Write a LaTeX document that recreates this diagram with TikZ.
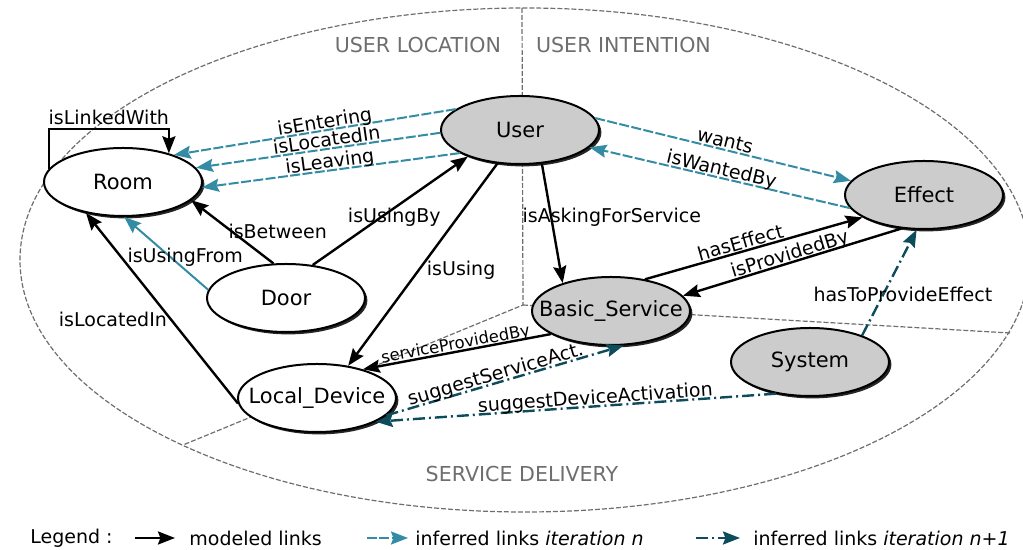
\documentclass[tikz,border=0pt]{standalone}
\usepackage{fontspec}
\setmainfont{DejaVu Sans}
\usetikzlibrary{arrows.meta, positioning, shapes.geometric, shadows}

\definecolor{inferredcol}{RGB}{52,140,164}
\definecolor{nextcol}{RGB}{12,76,92}
\definecolor{zonegray}{RGB}{110,110,110}
\definecolor{conceptgray}{RGB}{204,204,204}

\begin{document}
\begin{tikzpicture}[x=1pt, y=1pt, >={Stealth[length=8.5pt, width=6.5pt, inset=1.2pt]},
    node distance=20pt, on grid,
    concept/.style={ellipse, draw, line width=1pt, fill=white, minimum width=79pt, minimum height=34pt,
        inner xsep=-8pt, inner ysep=0pt, font=\fontsize{10.5}{12}\selectfont,
        drop shadow={shadow xshift=1.2pt, shadow yshift=-1.2pt, fill=black!85, opacity=1}},
    active/.style={concept, fill=conceptgray},
    modeled/.style={->, line width=1.2pt},
    inferred/.style={->, line width=1pt, draw=inferredcol, dash pattern=on 5pt off 1.2pt},
    inferrednext/.style={->, line width=1.2pt, draw=nextcol, dash pattern=on 6pt off 2pt on 1pt off 2pt},
    lbl/.style={font=\fontsize{9.5}{11}\selectfont, inner sep=1.5pt},
    slbl/.style={lbl, sloped, anchor=base, yshift=1.2pt},
    zone/.style={draw=zonegray, line width=0.6pt, dash pattern=on 2.5pt off 1pt},
    zonelbl/.style={text=zonegray, font=\fontsize{10.3}{12}\selectfont}]
    \useasboundingbox (0,0) rectangle (511.5,275);

    % Zones
    \draw[zone] (262.5,145) ellipse [x radius=252.5, y radius=126];
    \coordinate (zoneTop) at (261,271);
    \coordinate (zoneMid) at (261.5,122.5);
    \coordinate (zoneLeft) at (91.5,52.5);
    \coordinate (zoneRight) at (505,108.5);
    \draw[zone] (zoneTop) -- (zoneMid) -- (zoneLeft);
    \draw[zone] (zoneMid) -- (zoneRight);
    \node[zonelbl, anchor=east] (locLbl) at (254,252.5) {USER LOCATION};
    \node[zonelbl, anchor=west] (intLbl) at (264.5,252.5) {USER INTENTION};
    \node[zonelbl] (srvLbl) at (261,38) {SERVICE DELIVERY};

    % Nodes
    \node[active] (User) at (260,210) {User};
    \node[concept] (Room) [below left=26pt and 198.5pt of User] {Room};
    \node[active] (Effect) [below right=32.5pt and 202pt of User] {Effect};
    \node[concept] (Door) [below right=58pt and 81.5pt of Room] {Door};
    \node[active] (Basic_Service) [below right=90.5pt and 45.5pt of User] {Basic\_Service};
    \node[active] (System) [below right=25.5pt and 99.5pt of Basic_Service] {System};
    \node[concept] (Local_Device) [below right=50pt and 15.5pt of Door] {Local\_Device};

    % Modeled links
    \draw[modeled] (Room.170) -- ++(0,20) -| node[lbl, pos=0.25, above] {isLinkedWith} (Room.32);
    \draw[modeled] (Door.110) -- node[lbl, anchor=west, xshift=-4pt] {isBetween} (Room.-15);
    \draw[modeled] (Door.51) -- node[lbl, xshift=2pt, yshift=-3pt] {isUsingBy} (User.207);
    \draw[modeled] (User.236) -- node[lbl, anchor=west, yshift=-3pt] {isUsing} (Local_Device.46);
    \draw[modeled] (User.-57) -- node[lbl, xshift=29.75pt, yshift=3pt] {isAskingForService} (Basic_Service.150);
    \draw[modeled] (Basic_Service.43) -- node[slbl, pos=0.45] {hasEffect} (Effect.200);
    \draw[modeled] (Effect.236) -- node[slbl] {isProvidedBy} (Basic_Service.12);
    \draw[modeled] (Basic_Service.201) -- node[slbl, font=\fontsize{8.2}{10}\selectfont] {serviceProvidedBy} (Local_Device.32);
    \draw[modeled] (Local_Device.184) -- node[lbl, pos=0.44, anchor=east] {isLocatedIn} (Room.220);

    % Inferred links, iteration n
    \draw[inferred] (User.162) -- node[slbl, pos=0.46] {isEntering} (Room.28);
    \draw[inferred] (User.182) -- node[slbl, pos=0.46] {isLocatedIn} (Room.11);
    \draw[inferred] (User.201) -- node[slbl] {isLeaving} (Room.-4);
    \draw[inferred, solid] (Door.174) -- node[lbl, xshift=9.5pt, yshift=-2pt] {isUsingFrom} (Room.-88);
    \draw[inferred] (User.9) -- node[slbl] {wants} (Effect.169);
    \draw[inferred] (Effect.190) -- node[slbl] {isWantedBy} (User.-14);

    % Inferred links, iteration n+1
    \draw[inferrednext] (System.27) -- node[lbl, xshift=6.75pt, yshift=-5.75pt] {hasToProvideEffect} (Effect.258);
    \draw[inferrednext] (Local_Device.-14) -- node[slbl, pos=0.47] {suggestServiceAct.} (Basic_Service.-70);
    \draw[inferrednext] (System.223) -- node[slbl, pos=0.45] {suggestDeviceActivation} (Local_Device.-22);

    % Legend
    \node[lbl, anchor=west] (legend) at (13.5,6) {Legend :};
    \coordinate (lgModA) at (67.5,6);
    \coordinate (lgModB) at (87.5,6);
    \coordinate (lgInfA) at (183.5,6);
    \coordinate (lgInfB) at (204,6);
    \coordinate (lgNextA) at (348,6);
    \coordinate (lgNextB) at (370,6);
    \draw[modeled] (lgModA) -- (lgModB);
    \draw[inferred] (lgInfA) -- (lgInfB);
    \draw[inferrednext] (lgNextA) -- (lgNextB);
    \node[lbl, anchor=west] (lgMod) at (93,6) {modeled links};
    \node[lbl, anchor=west] (lgInf) at (206,6) {inferred links \textit{iteration n}};
    \node[lbl, anchor=west] (lgNext) at (375,6) {inferred links \textit{iteration n+1}};
\end{tikzpicture}
\end{document}
